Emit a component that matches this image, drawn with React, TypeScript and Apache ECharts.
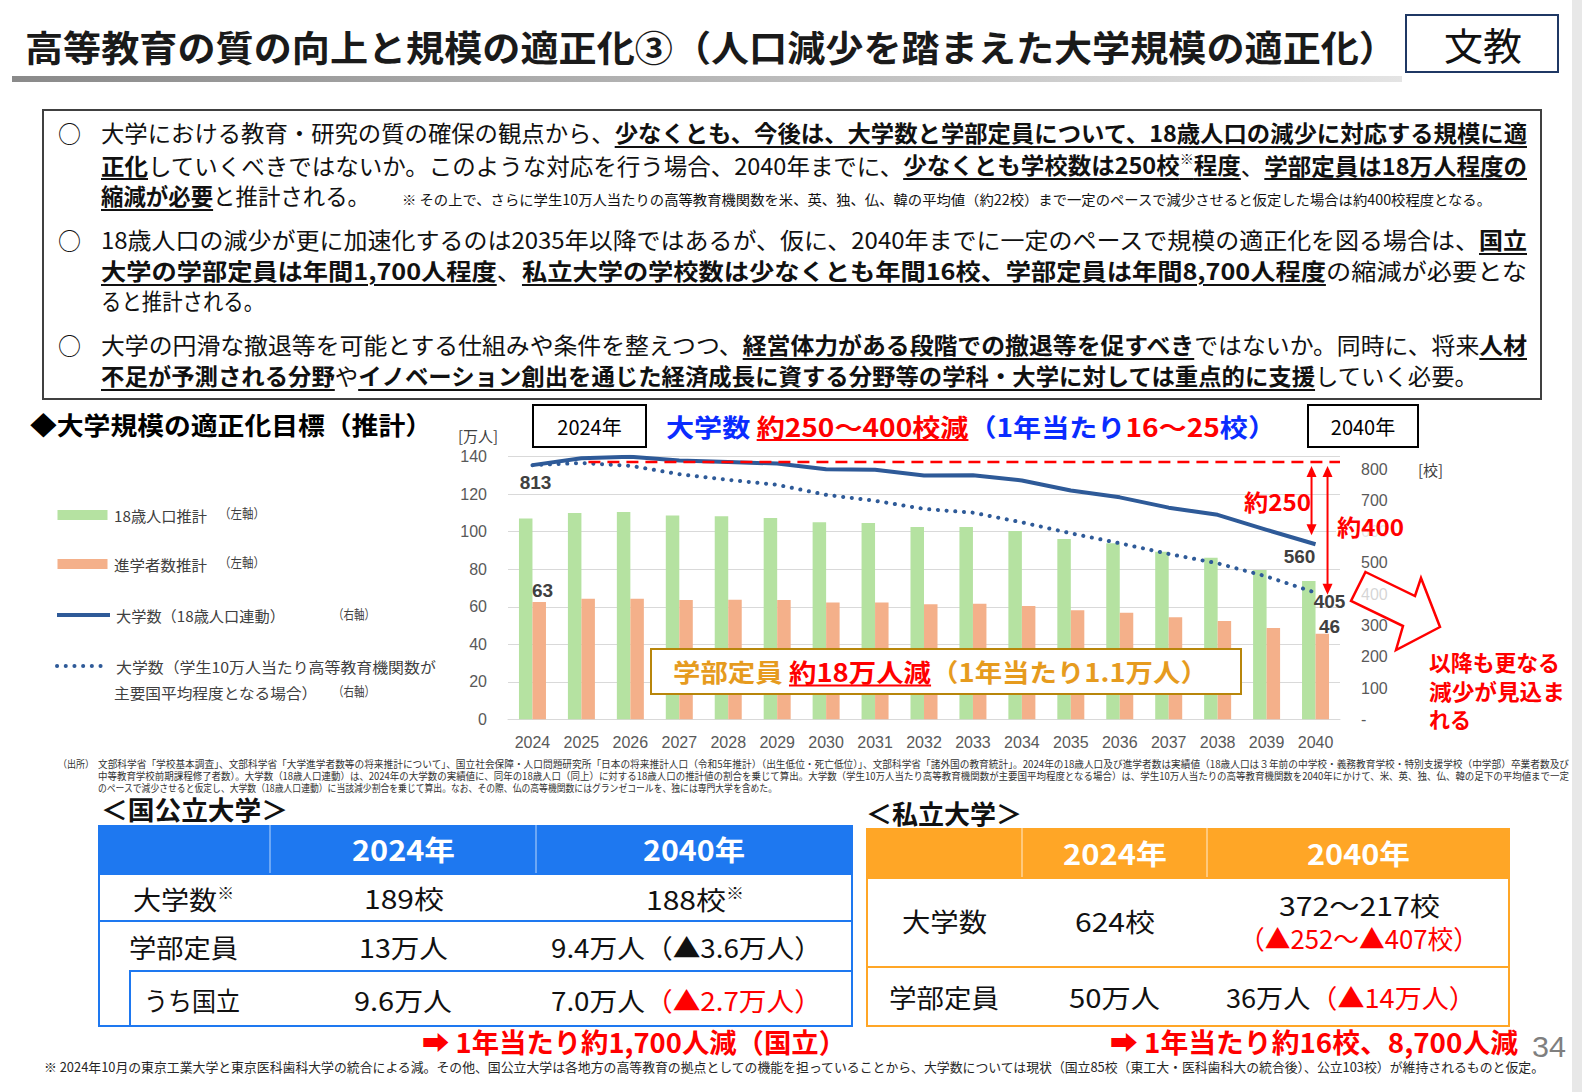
import React, { useEffect, useLayoutEffect, useRef } from 'react';
import * as echarts from 'echarts';

// ---------------- data ----------------
const years = ['2024','2025','2026','2027','2028','2029','2030','2031','2032','2033','2034','2035','2036','2037','2038','2039','2040'];
const pop18 = [107.1,110.0,110.5,108.7,108.2,107.3,105.0,104.6,102.5,102.5,100.4,96.1,93.8,89.3,86.1,79.6,73.7];
const entrants = [62.5,64.3,64.3,63.6,63.8,63.6,62.3,62.3,61.3,61.6,60.4,58.1,56.8,54.4,52.4,48.7,45.6];
const univLinked = [813,835,840,828,823,818,800,798,780,781,764,732,710,677,654,606,560];
const univIntl = [813,820,811,784,766,750,718,699,673,661,630,595,563,529,499,457,405];
const leftAxisMax = 140;
const leftAxisStep = 20;
const rightAxisMax = 840;
const rightAxisStep = 100;
const rightAxisLabelMax = 800;
const targetLineValue = 823;
const legendNames = ['18歳人口推計', '進学者数推計', '大学数（18歳人口連動）', '大学数（学生10万人当たり高等教育機関数が', '主要国平均程度となる場合）'];

// ---------------- styles ----------------
const JPF = '"Noto Sans CJK JP", "Noto Sans", sans-serif';
const NUMF = '"Liberation Sans", Arial, sans-serif';
const GREEN = '#B5E2A1';
const ORANGE = '#F4B08A';
const BLUE = '#2E5A98';
const RED = '#FF0000';
const HBLUE = '#0A2CFF';
const GOLD = '#E69B1E';
const TBLUE = '#1E78F0';
const TORANGE = '#FFA626';

// ---------------- helpers (HTML) ----------------
function Fit(props: { x: number; y: number; w: number; size: number; weight?: number; color?: string; family?: string; children: any }) {
  const ref = useRef<HTMLSpanElement>(null);
  useLayoutEffect(() => {
    const run = () => {
      const el = ref.current;
      if (!el) return;
      el.style.transform = 'none';
      const m = el.getBoundingClientRect().width;
      if (m > 0) el.style.transform = `scaleX(${props.w / m})`;
    };
    run();
    const f: any = (document as any).fonts;
    if (f && f.ready) f.ready.then(run);
  }, []);
  const { x, y, size } = props;
  const h = size * 1.1;
  return (
    <div style={{ position: 'absolute', left: x, top: y - h / 2, height: h, display: 'flex', alignItems: 'center', whiteSpace: 'nowrap' }}>
      <span ref={ref} style={{ display: 'inline-block', transformOrigin: '0 50%', fontFamily: props.family || JPF, fontSize: size, fontWeight: props.weight || 400, color: props.color || '#111', lineHeight: 1 }}>
        {props.children}
      </span>
    </div>
  );
}

const U = (p: { children: any; color?: string }) => (
  <span style={{ fontWeight: 700, textDecoration: 'underline', textUnderlineOffset: '4px', textDecorationThickness: '2px', color: p.color }}>{p.children}</span>
);
const Sup = (p: { children: any }) => <span style={{ fontSize: '0.6em', verticalAlign: '0.7em' }}>{p.children}</span>;
const R = (p: { children: any }) => <span style={{ color: RED }}>{p.children}</span>;

function Box(p: { x: number; y: number; w: number; h: number; style?: any }) {
  return <div style={{ position: 'absolute', left: p.x, top: p.y, width: p.w, height: p.h, boxSizing: 'border-box', ...p.style }} />;
}

// ---------------- helpers (echarts graphic) ----------------
let measureCtx: CanvasRenderingContext2D | null = null;
function measure(text: string, size: number, weight: string | number, family: string) {
  if (!measureCtx) measureCtx = document.createElement('canvas').getContext('2d');
  measureCtx!.font = `${weight} ${size}px ${family}`;
  return measureCtx!.measureText(text).width;
}
type Seg = { t: string; c: string; u?: boolean };
function segLine(x: number, y: number, segs: Seg[], size: number, weight: string | number, target?: number, family = JPF): any[] {
  const widths = segs.map((s) => measure(s.t, size, weight, family));
  const total = widths.reduce((a, b) => a + b, 0);
  const k = target ? target / total : 1;
  const out: any[] = [];
  let cx = x;
  segs.forEach((s, i) => {
    out.push({
      type: 'text', x: cx, y, scaleX: k, z: 100,
      style: { text: s.t, fill: s.c, fontSize: size, fontWeight: weight, fontFamily: family, align: 'left', textAlign: 'left', verticalAlign: 'middle', textVerticalAlign: 'middle' },
    });
    if (s.u) {
      const uy = y + size * 0.56;
      out.push({ type: 'line', z: 100, shape: { x1: cx, y1: uy, x2: cx + widths[i] * k, y2: uy }, style: { stroke: s.c, lineWidth: 2 } });
    }
    cx += widths[i] * k;
  });
  return out;
}
function ctext(x: number, y: number, t: string, size: number, color: string, weight: string | number = 'normal', family = JPF) {
  return {
    type: 'text', x, y, z: 100,
    style: { text: t, fill: color, fontSize: size, fontWeight: weight, fontFamily: family, align: 'center', textAlign: 'center', verticalAlign: 'middle', textVerticalAlign: 'middle' },
  };
}
function dblArrow(x: number, y1: number, y2: number) {
  return [
    { type: 'line', z: 100, shape: { x1: x, y1: y1 + 8, x2: x, y2: y2 - 8 }, style: { stroke: RED, lineWidth: 2 } },
    { type: 'polygon', z: 100, shape: { points: [[x, y1], [x - 5, y1 + 11], [x + 5, y1 + 11]] }, style: { fill: RED } },
    { type: 'polygon', z: 100, shape: { points: [[x, y2], [x - 5, y2 - 11], [x + 5, y2 - 11]] }, style: { fill: RED } },
  ];
}

function baseOption(): any {
  const axisFont = { color: '#595959', fontSize: 16, fontFamily: NUMF };
  return {
    animation: false,
    backgroundColor: 'transparent',
    grid: { left: 508, right: 242, top: 456.7, bottom: 372.7, containLabel: false, outerBoundsMode: 'none' },
    xAxis: {
      type: 'category', data: years,
      axisTick: { show: false },
      axisLine: { lineStyle: { color: '#d9d9d9', width: 1 } },
      axisLabel: { ...axisFont, margin: 15 },
    },
    yAxis: [
      {
        type: 'value', min: 0, max: leftAxisMax, interval: leftAxisStep,
        axisLabel: { ...axisFont, margin: 21 },
        splitLine: { lineStyle: { color: '#d9d9d9', width: 1 } },
        axisLine: { show: false }, axisTick: { show: false },
      },
      {
        type: 'value', min: 0, max: rightAxisMax, interval: rightAxisStep, position: 'right',
        axisLabel: {
          ...axisFont, margin: 21,
          formatter: (v: number) => (v === 0 ? '-' : v % rightAxisStep === 0 && v <= rightAxisLabelMax ? String(v) : ''),
        },
        splitLine: { show: false }, axisLine: { show: false }, axisTick: { show: false },
      },
    ],
    series: [
      { name: legendNames[0], type: 'bar', yAxisIndex: 0, data: pop18, barWidth: 13.5, barGap: '0%', itemStyle: { color: GREEN }, z: 2 },
      { name: legendNames[1], type: 'bar', yAxisIndex: 0, data: entrants, barWidth: 13.5, barGap: '0%', itemStyle: { color: ORANGE }, z: 2 },
      { name: legendNames[2], type: 'line', yAxisIndex: 1, data: univLinked, symbol: 'none', lineStyle: { color: BLUE, width: 4, join: 'round' }, z: 5 },
      { name: legendNames[3], type: 'line', yAxisIndex: 1, data: univIntl, symbol: 'none', lineStyle: { color: BLUE, width: 4, type: [0.1, 8.6], cap: 'round' }, z: 5 },
    ],
  };
}

function buildGraphics(chart: any): any[] {
  const px = (i: number, v: number, axis: number) => chart.convertToPixel({ xAxisIndex: 0, yAxisIndex: axis }, [i, v]) as number[];
  const last = years.length - 1;
  const band = px(1, 0, 0)[0] - px(0, 0, 0)[0];
  const yRed = px(0, targetLineValue, 1)[1];
  const xRight = px(last, 0, 0)[0] + band / 2;
  const xStart = px(1, 0, 0)[0] + 7;
  const pL0 = px(0, univLinked[0], 1);
  const pLN = px(last, univLinked[last], 1);
  const pIN = px(last, univIntl[last], 1);
  const b0 = px(0, entrants[0], 0);
  const bN = px(last, entrants[last], 0);
  const numLbl = (x: number, y: number, t: string) => ctext(x, y, t, 19, '#404040', 'bold', NUMF);

  const els: any[] = [];
  // legend
  els.push({ type: 'rect', z: 100, shape: { x: 57.5, y: 510, width: 50, height: 10 }, style: { fill: GREEN } });
  els.push({ type: 'rect', z: 100, shape: { x: 57.5, y: 559, width: 50, height: 10 }, style: { fill: ORANGE } });
  els.push({ type: 'line', z: 100, shape: { x1: 57, y1: 615, x2: 110, y2: 615 }, style: { stroke: BLUE, lineWidth: 4 } });
  els.push({ type: 'line', z: 100, shape: { x1: 57, y1: 666, x2: 105, y2: 666 }, style: { stroke: BLUE, lineWidth: 4, lineDash: [0.1, 8.6], lineCap: 'round' } });
  els.push(...segLine(114, 515, [{ t: legendNames[0], c: '#404040' }], 15, 'normal', 93));
  els.push(...segLine(219, 513, [{ t: '（左軸）', c: '#404040' }], 13, 'normal', 46));
  els.push(...segLine(114, 564, [{ t: legendNames[1], c: '#404040' }], 15, 'normal', 93));
  els.push(...segLine(219, 562, [{ t: '（左軸）', c: '#404040' }], 13, 'normal', 46));
  els.push(...segLine(116, 615, [{ t: legendNames[2], c: '#404040' }], 15, 'normal', 169));
  els.push(...segLine(333, 613, [{ t: '（右軸）', c: '#404040' }], 13, 'normal', 42));
  els.push(...segLine(116, 666, [{ t: legendNames[3], c: '#404040' }], 15, 'normal', 320));
  els.push(...segLine(114, 692, [{ t: legendNames[4], c: '#404040' }], 15, 'normal', 204));
  els.push(...segLine(333, 690, [{ t: '（右軸）', c: '#404040' }], 13, 'normal', 42));

  // axis units
  els.push(ctext(478, 435, '[万人]', 15, '#404040'));
  els.push(...segLine(1418, 469, [{ t: '[校]', c: '#404040' }], 15, 'normal'));

  // year boxes
  els.push({ type: 'rect', z: 100, shape: { x: 533, y: 405, width: 113, height: 42 }, style: { fill: '#fff', stroke: '#000', lineWidth: 2 } });
  els.push(ctext(589.5, 426, '2024年', 20, '#000'));
  els.push({ type: 'rect', z: 100, shape: { x: 1308, y: 405, width: 110, height: 42 }, style: { fill: '#fff', stroke: '#000', lineWidth: 2 } });
  els.push(ctext(1363, 426, '2040年', 20, '#000'));

  // headline
  els.push(...segLine(666, 426, [
    { t: '大学数 ', c: HBLUE }, { t: '約250～400校減', c: RED, u: true }, { t: '（1年当たり', c: HBLUE }, { t: '16～25', c: RED }, { t: '校）', c: HBLUE },
  ], 25, 'bold', 610));

  // red dashed target line
  els.push({ type: 'line', z: 100, shape: { x1: xStart, y1: yRed, x2: xRight, y2: yRed }, style: { stroke: RED, lineWidth: 2.5, lineDash: [12, 7] } });

  // reduction arrows
  els.push(...dblArrow(pLN[0] - 4, yRed + 4, pLN[1] - 9));
  els.push(...dblArrow(pLN[0] + 12, yRed + 4, pIN[1] + 2));
  els.push(...segLine(1244, 501, [{ t: '約250', c: RED }], 23, 'bold', 67));
  const w400 = segLine(1337, 526, [{ t: '約400', c: RED }], 23, 'bold', 67);
  els.push({ type: 'rect', z: 99, shape: { x: 1336, y: 514, width: 69, height: 24 }, style: { fill: 'rgba(255,255,255,0.85)' } });
  els.push(...w400);

  // hollow arrow
  els.push({
    type: 'polygon', z: 100,
    shape: { points: [[1365.5, 572], [1415, 596], [1421, 578], [1440, 627], [1396, 650], [1403, 626], [1351, 601]] },
    style: { fill: 'rgba(255,255,255,0.75)', stroke: RED, lineWidth: 2.5, lineJoin: 'miter' },
  });
  els.push(...segLine(1429, 661, [{ t: '以降も更なる', c: RED }], 22, 'bold', 131));
  els.push(...segLine(1429, 690, [{ t: '減少が見込ま', c: RED }], 22, 'bold', 136));
  els.push(...segLine(1429, 718, [{ t: 'れる', c: RED }], 22, 'bold', 42));

  // capacity box
  els.push({ type: 'rect', z: 100, shape: { x: 651, y: 649, width: 590, height: 45 }, style: { fill: '#fff', stroke: '#B8860B', lineWidth: 2 } });
  els.push(...segLine(673, 671.5, [
    { t: '学部定員 ', c: GOLD }, { t: '約18万人減', c: RED, u: true }, { t: '（1年当たり1.1万人）', c: GOLD },
  ], 25, 'bold', 535));

  // point labels
  els.push(numLbl(pL0[0] + 3, pL0[1] + 17, String(univLinked[0])));
  els.push(numLbl(b0[0] + 10, b0[1] - 12, String(Math.round(entrants[0]))));
  els.push(numLbl(pLN[0] - 16, pLN[1] + 12, String(univLinked[last])));
  els.push(numLbl(pIN[0] + 14, pIN[1] + 9, String(univIntl[last])));
  els.push(numLbl(bN[0] + 14, bN[1] - 7, String(Math.round(entrants[last]))));

  return els.map((e, i) => ({ id: 'g' + i, ...e }));
}

function Chart() {
  const ref = useRef<HTMLDivElement>(null);
  useEffect(() => {
    const chart = echarts.init(ref.current!, null, { renderer: 'svg' });
    chart.setOption(baseOption());
    chart.setOption({ graphic: { elements: buildGraphics(chart) } });
    let alive = true;
    const f: any = (document as any).fonts;
    if (f && f.ready) f.ready.then(() => { if (alive) chart.setOption({ graphic: { elements: buildGraphics(chart) } }); });
    return () => { alive = false; chart.dispose(); };
  }, []);
  return <div ref={ref} style={{ position: 'absolute', left: 0, top: 0, width: 1582, height: 1092 }} />;
}

export default function App() {
  useEffect(() => { document.body.style.margin = '0'; }, []);
  const W = 1426;
  return (
    <div style={{ position: 'absolute', left: 0, top: 0, width: 1582, height: 1092, background: '#fff', overflow: 'hidden', fontFamily: JPF }}>
      {/* right gray strip */}
      <Box x={1572} y={0} w={10} h={1092} style={{ background: '#e8e8e8' }} />

      {/* title */}
      <Fit x={25} y={46} w={1372} size={36} weight={700} color="#1a1a1a">高等教育の質の向上と規模の適正化③（人口減少を踏まえた大学規模の適正化）</Fit>
      <Box x={12} y={76} w={1390} h={6} style={{ background: 'linear-gradient(to right,#8a8a8a,#c4c4c4 65%,#e4e4e4)' }} />
      <Box x={1405} y={14} w={154} h={59} style={{ border: '2px solid #1f3864' }} />
      <Fit x={1444} y={44} w={78} size={38}>文教</Fit>

      {/* text box */}
      <Box x={42} y={109} w={1500} h={291} style={{ border: '2px solid #404040' }} />
      <Fit x={58} y={133} w={23} size={24}>○</Fit>
      <Fit x={58} y={240} w={23} size={24}>○</Fit>
      <Fit x={58} y={345} w={23} size={24}>○</Fit>
      <Fit x={101} y={133} w={W} size={23}>大学における教育・研究の質の確保の観点から、<U>少なくとも、今後は、大学数と学部定員について、18歳人口の減少に対応する規模に適</U></Fit>
      <Fit x={101} y={164.5} w={W} size={23}><U>正化</U>していくべきではないか。このような対応を行う場合、2040年までに、<U>少なくとも学校数は250校<Sup>※</Sup>程度</U>、<U>学部定員は18万人程度の</U></Fit>
      <Fit x={101} y={196} w={269} size={23}><U>縮減が必要</U>と推計される。</Fit>
      <Fit x={402} y={199} w={1089} size={14}>※ その上で、さらに学生10万人当たりの高等教育機関数を米、英、独、仏、韓の平均値（約22校）まで一定のペースで減少させると仮定した場合は約400校程度となる。</Fit>
      <Fit x={101} y={240} w={W} size={23}>18歳人口の減少が更に加速化するのは2035年以降ではあるが、仮に、2040年までに一定のペースで規模の適正化を図る場合は、<U>国立</U></Fit>
      <Fit x={101} y={270.5} w={W} size={23}><U>大学の学部定員は年間1,700人程度</U>、<U>私立大学の学校数は少なくとも年間16校、学部定員は年間8,700人程度</U>の縮減が必要とな</Fit>
      <Fit x={101} y={301} w={163} size={23}>ると推計される。</Fit>
      <Fit x={101} y={345} w={W} size={23}>大学の円滑な撤退等を可能とする仕組みや条件を整えつつ、<U>経営体力がある段階での撤退等を促すべき</U>ではないか。同時に、将来<U>人材</U></Fit>
      <Fit x={101} y={376} w={1377} size={23}><U>不足が予測される分野</U>や<U>イノベーション創出を通じた経済成長に資する分野等の学科・大学に対しては重点的に支援</U>していく必要。</Fit>

      {/* section header */}
      <Fit x={30} y={424} w={402} size={25} weight={700} color="#000">◆大学規模の適正化目標（推計）</Fit>

      {/* sources */}
      <Fit x={58} y={764} w={36} size={10} color="#333">（出所）</Fit>
      <Fit x={98} y={764} w={1471} size={10} color="#333">文部科学省「学校基本調査」、文部科学省「大学進学者数等の将来推計について」、国立社会保障・人口問題研究所「日本の将来推計人口（令和5年推計）（出生低位・死亡低位）」、文部科学省「諸外国の教育統計」。2024年の18歳人口及び進学者数は実績値（18歳人口は３年前の中学校・義務教育学校・特別支援学校（中学部）卒業者数及び</Fit>
      <Fit x={98} y={776} w={1471} size={10} color="#333">中等教育学校前期課程修了者数）。大学数（18歳人口連動）は、2024年の大学数の実績値に、同年の18歳人口（同上）に対する18歳人口の推計値の割合を乗じて算出。大学数（学生10万人当たり高等教育機関数が主要国平均程度となる場合）は、学生10万人当たりの高等教育機関数を2040年にかけて、米、英、独、仏、韓の足下の平均値まで一定</Fit>
      <Fit x={98} y={788} w={679} size={10} color="#333">のペースで減少させると仮定し、大学数（18歳人口連動）に当該減少割合を乗じて算出。なお、その際、仏の高等機関数にはグランゼコールを、独には専門大学を含めた。</Fit>

      {/* national table */}
      <Fit x={101} y={809} w={187} size={26} weight={700} color="#111">＜国公立大学＞</Fit>
      <Box x={98} y={825} w={755} h={49} style={{ background: TBLUE }} />
      <Box x={269} y={825} w={1.5} h={49} style={{ background: 'rgba(255,255,255,0.35)' }} />
      <Box x={535} y={825} w={1.5} h={49} style={{ background: 'rgba(255,255,255,0.35)' }} />
      <Box x={98} y={873} w={755} h={154} style={{ border: `2px solid ${TBLUE}` }} />
      <Box x={98} y={920} w={755} h={2} style={{ background: TBLUE }} />
      <Box x={129} y={970} w={724} h={2} style={{ background: TBLUE }} />
      <Box x={129} y={970} w={2} h={57} style={{ background: TBLUE }} />
      <Fit x={352} y={849} w={103} size={28} weight={700} color="#fff">2024年</Fit>
      <Fit x={643} y={849} w={102} size={28} weight={700} color="#fff">2040年</Fit>
      <Fit x={133} y={898} w={101} size={26}>大学数<Sup>※</Sup></Fit>
      <Fit x={364} y={898} w={80} size={26}>189校</Fit>
      <Fit x={646} y={898} w={98} size={26}>188校<Sup>※</Sup></Fit>
      <Fit x={129} y={947} w={109} size={26}>学部定員</Fit>
      <Fit x={359} y={947} w={89} size={26}>13万人</Fit>
      <Fit x={551} y={947} w={271} size={26}>9.4万人（▲3.6万人）</Fit>
      <Fit x={144} y={1000} w={96} size={26}>うち国立</Fit>
      <Fit x={354} y={1000} w={98} size={26}>9.6万人</Fit>
      <Fit x={551} y={1000} w={271} size={26}>7.0万人<R>（▲2.7万人）</R></Fit>
      <Fit x={422} y={1042} w={424} size={27} weight={700} color={RED}>➡ 1年当たり約1,700人減（国立）</Fit>

      {/* private table */}
      <Fit x={866} y={813} w={156} size={26} weight={700} color="#111">＜私立大学＞</Fit>
      <Box x={866} y={828} w={644} h={50} style={{ background: TORANGE }} />
      <Box x={1021} y={828} w={1.5} h={50} style={{ background: 'rgba(255,255,255,0.4)' }} />
      <Box x={1206} y={828} w={1.5} h={50} style={{ background: 'rgba(255,255,255,0.4)' }} />
      <Box x={866} y={877} w={644} h={150} style={{ border: `2px solid ${TORANGE}` }} />
      <Box x={866} y={966} w={644} h={2} style={{ background: TORANGE }} />
      <Fit x={1063} y={853} w={104} size={28} weight={700} color="#fff">2024年</Fit>
      <Fit x={1307} y={853} w={103} size={28} weight={700} color="#fff">2040年</Fit>
      <Fit x={902} y={921} w={85} size={26}>大学数</Fit>
      <Fit x={1075} y={921} w={80} size={26}>624校</Fit>
      <Fit x={1279} y={905} w={161} size={26}>372～217校</Fit>
      <Fit x={1239} y={938} w={240} size={26} color={RED}>（▲252～▲407校）</Fit>
      <Fit x={889} y={997} w={110} size={26}>学部定員</Fit>
      <Fit x={1069} y={997} w={91} size={26}>50万人</Fit>
      <Fit x={1226} y={997} w={250} size={26}>36万人<R>（▲14万人）</R></Fit>
      <Fit x={1110} y={1042} w={408} size={27} weight={700} color={RED}>➡ 1年当たり約16校、8,700人減</Fit>

      <Fit x={1532} y={1047} w={34} size={30} color="#7f7f7f" family={NUMF}>34</Fit>
      <Fit x={44} y={1067} w={1500} size={13} color="#262626">※ 2024年10月の東京工業大学と東京医科歯科大学の統合による減。その他、国公立大学は各地方の高等教育の拠点としての機能を担っていることから、大学数については現状（国立85校（東工大・医科歯科大の統合後）、公立103校）が維持されるものと仮定。</Fit>

      <Chart />
    </div>
  );
}
